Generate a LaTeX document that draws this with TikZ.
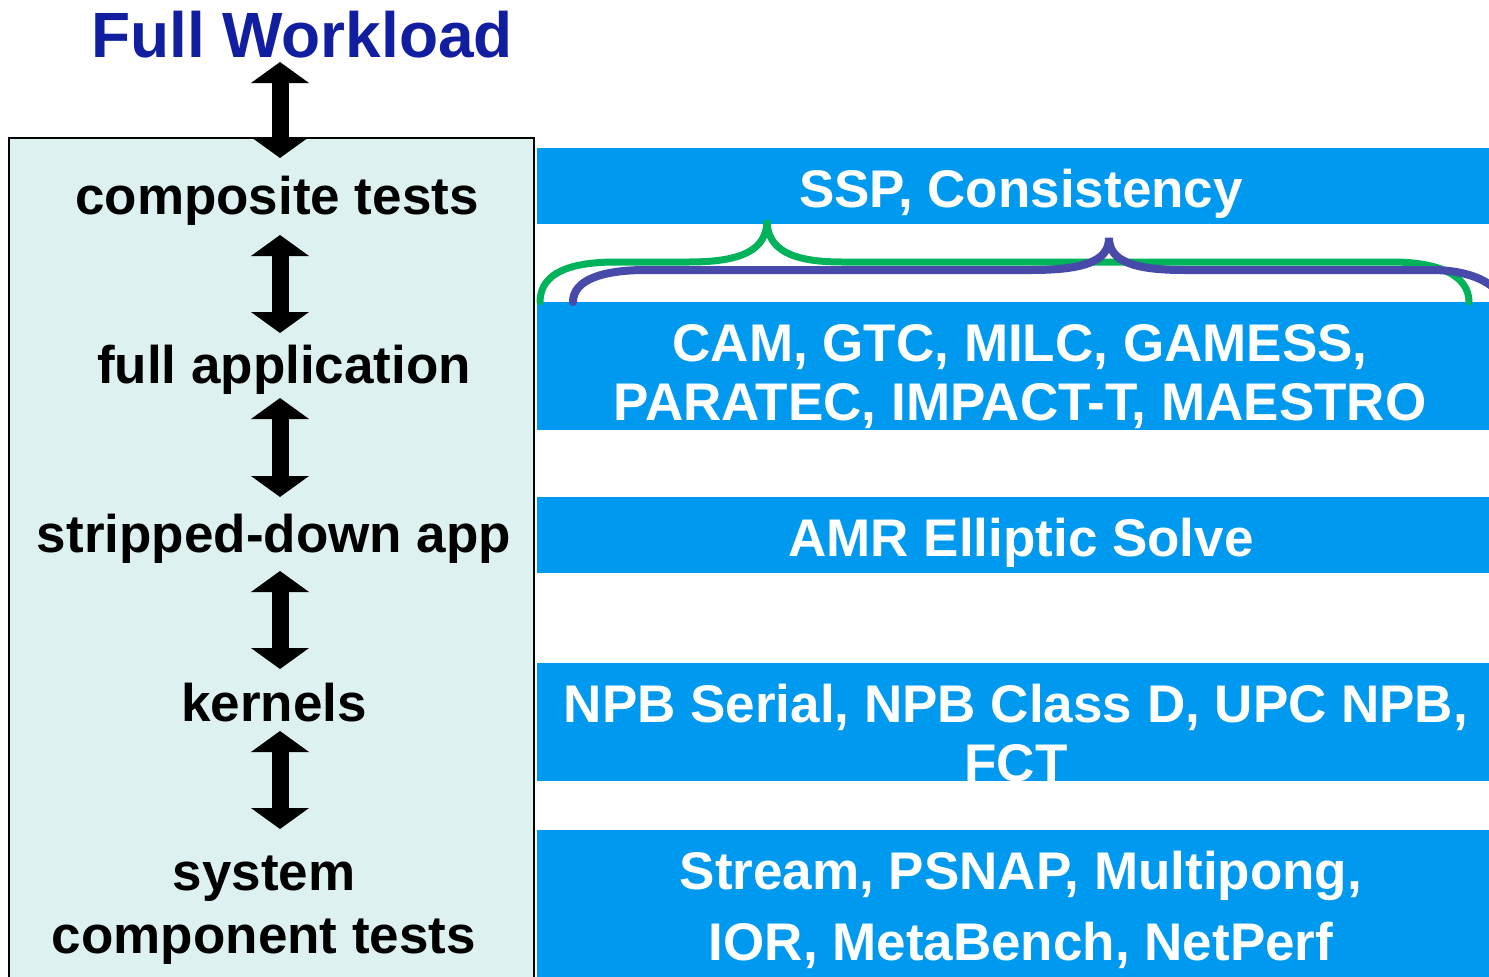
\documentclass[tikz,border=0pt]{standalone}
\usepackage{fontspec}
\setmainfont{Liberation Sans}
\usetikzlibrary{arrows.meta}
\definecolor{boxcyan}{RGB}{221,241,240}
\definecolor{barblue}{RGB}{0,153,240}
\definecolor{titleblue}{RGB}{18,30,160}
\definecolor{bracegreen}{RGB}{0,178,90}
\definecolor{bracepurple}{RGB}{72,74,170}
\tikzset{
  bar/.style={fill=barblue, draw=none},
  bartext/.style={text=white, font=\bfseries\fontsize{53}{59}\selectfont, align=center, anchor=base, inner sep=0pt},
  lefttext/.style={text=black, font=\bfseries\fontsize{53}{63}\selectfont, align=center, anchor=base, inner sep=0pt},
  dblarrow/.style={line width=17pt, {Triangle[width=57pt,length=21pt]}-{Triangle[width=57pt,length=21pt]}, black},
  brace/.style={line width=7pt, line cap=round}
}
\begin{document}
\begin{tikzpicture}[x=1pt,y=-1pt]
\useasboundingbox (0,0) rectangle (1489,977);
\clip (0,0) rectangle (1489,977);
% left box
\draw[fill=boxcyan, line width=2pt] (9,138) rectangle (534,1000);
% bars
\fill[bar] (537,148) rectangle (1500,224);
\fill[bar] (537,302) rectangle (1500,430);
\fill[bar] (537,497) rectangle (1500,573);
\fill[bar] (537,663) rectangle (1500,781);
\fill[bar] (537,830) rectangle (1500,1000);
% bar texts (multi-line nodes are placed at the baseline of their last line)
\node[bartext] (b1) at (1021,207) {SSP, Consistency};
\node[bartext] (b2) at (1020,420) {CAM, GTC, MILC, GAMESS,\\PARATEC, IMPACT-T, MAESTRO};
\node[bartext] (b3) at (1021,556) {AMR Elliptic Solve};
\node[bartext] (b4) at (1016,781) {NPB Serial, NPB Class D, UPC NPB,\\FCT};
\node[bartext, font=\bfseries\fontsize{53}{71}\selectfont] (b5) at (1021,960) {Stream, PSNAP, Multipong,\\IOR, MetaBench, NetPerf};
% title and left texts
\node[lefttext, text=titleblue, font=\bfseries\fontsize{64}{70}\selectfont] (title) at (302,57) {Full Workload};
\node[lefttext] (l1) at (277,214) {composite tests};
\node[lefttext] (l2) at (284,383) {full application};
\node[lefttext] (l3) at (274,552) {stripped-down app};
\node[lefttext] (l4) at (274,721) {kernels};
\node[lefttext] (l5) at (264,953) {system\\component tests};
% arrow end points
\coordinate (a1t) at (280,62);  \coordinate (a1b) at (280,158);
\coordinate (a2t) at (280,235); \coordinate (a2b) at (280,333);
\coordinate (a3t) at (280,398); \coordinate (a3b) at (280,497);
\coordinate (a4t) at (280,571); \coordinate (a4b) at (280,669);
\coordinate (a5t) at (280,731); \coordinate (a5b) at (280,829);
\draw[dblarrow] (a1t) -- (a1b);
\draw[dblarrow] (a2t) -- (a2b);
\draw[dblarrow] (a3t) -- (a3b);
\draw[dblarrow] (a4t) -- (a4b);
\draw[dblarrow] (a5t) -- (a5b);
% braces
\draw[brace, bracegreen] (540,302) .. controls (540,272) and (572,262) .. (616,262) -- (689,262)
  .. controls (742,262) and (767,250) .. (767,220)
  .. controls (767,250) and (792,262) .. (842,262) -- (1392,262)
  .. controls (1440,262) and (1469,276) .. (1469,302);
\draw[brace, bracepurple, line width=8pt] (573,302) .. controls (573,280) and (602,270) .. (646,270) -- (1031,270)
  .. controls (1082,270) and (1109,262) .. (1109,238)
  .. controls (1109,262) and (1136,270) .. (1184,270) -- (1435,270)
  .. controls (1468,271) and (1489,280) .. (1502,296);
\end{tikzpicture}
\end{document}
